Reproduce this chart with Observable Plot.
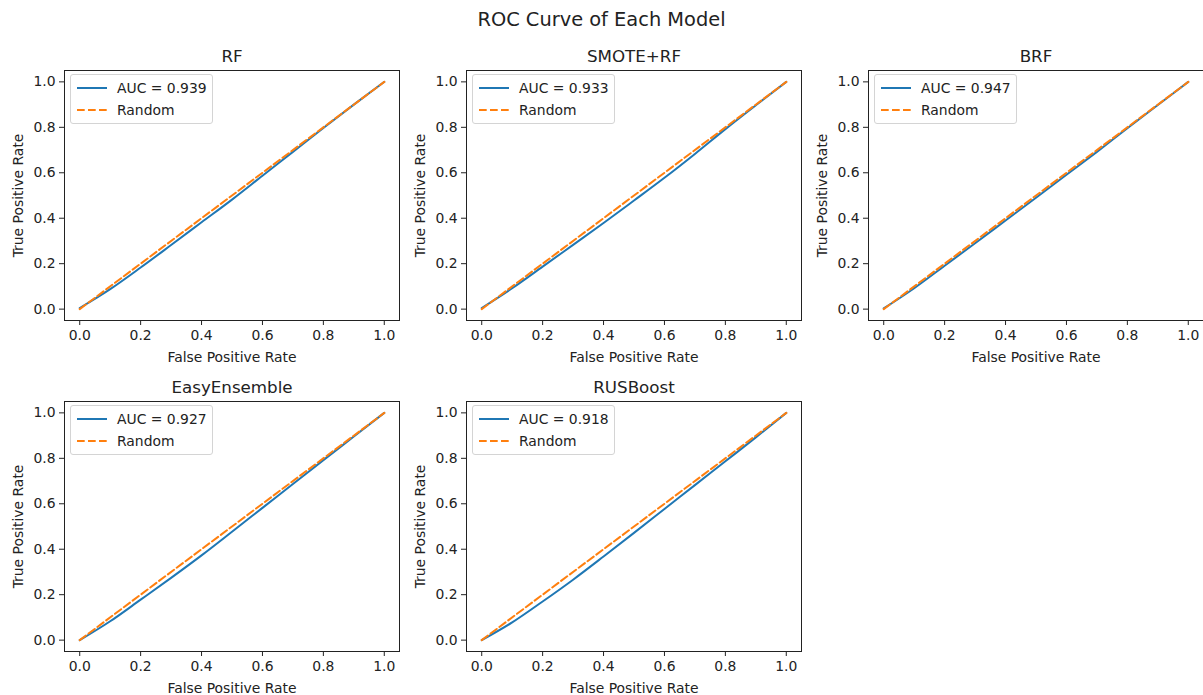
<!DOCTYPE html>
<html><head><meta charset="utf-8">
<script src="https://cdn.jsdelivr.net/npm/d3@7"></script>
<script src="https://cdn.jsdelivr.net/npm/@observablehq/plot@0.6"></script>
<style>
html,body{margin:0;padding:0;background:#fff;overflow:hidden;width:1203px;height:695px;}
body{position:relative;font-family:"DejaVu Sans",sans-serif;color:#222;}
#title{position:absolute;left:0;width:1203px;top:10px;text-align:center;font-size:19.4px;line-height:1;white-space:nowrap;}
.panel{position:absolute;width:402px;}
.panel svg{display:block;overflow:visible;max-width:none !important;}
.legend{position:absolute;border:1px solid #d4d4d4;border-radius:3px;background:rgba(255,255,255,0.8);font-size:13.9px;padding:2px 5px 2px 6px;line-height:22px;white-space:nowrap;}
.legend .row{height:22px;display:flex;align-items:center;}
.legend svg{display:block;margin-right:10px;}
</style></head><body>
<div id="title">ROC Curve of Each Model</div>
<script>
// ---- data ----
const models = ["RF", "SMOTE+RF", "BRF", "EasyEnsemble", "RUSBoost"];
const aucs = [0.939, 0.933, 0.947, 0.927, 0.918];
const fpr = [0, 0.1, 0.2, 0.3, 0.4, 0.5, 0.6, 0.7, 0.8, 0.9, 1.0];
const tprRF = [0.005, 0.088, 0.183, 0.282, 0.382, 0.482, 0.587, 0.692, 0.797, 0.9, 1.0];
const tprSMOTE = [0.005, 0.092, 0.187, 0.283, 0.379, 0.478, 0.578, 0.683, 0.792, 0.897, 1.0];
const tprBRF = [0.003, 0.092, 0.191, 0.29, 0.39, 0.49, 0.591, 0.692, 0.796, 0.898, 1.0];
const tprEasy = [0, 0.083, 0.178, 0.274, 0.373, 0.477, 0.582, 0.687, 0.792, 0.896, 1.0];
const tprRUS = [0, 0.078, 0.17, 0.266, 0.368, 0.472, 0.577, 0.682, 0.787, 0.892, 1.0];
const tprs = [tprRF, tprSMOTE, tprBRF, tprEasy, tprRUS];
const randomX = [0, 1];
const randomY = [0, 1];
const ticks = [0, 0.2, 0.4, 0.6, 0.8, 1.0];

// ---- layout ----
const blue = "#1f77b4", orange = "#ff7f0e";
const colLeft = [0, 402, 804];
const rowFrameTop = [70, 401];
const mL = 64, mR = 3, mT = 35, mB = 45, frameW = 335, frameH = 250;

models.forEach((name, i) => {
  const col = i % 3, row = Math.floor(i / 3);
  const roc = fpr.map((f, k) => ({fpr: f, tpr: tprs[i][k]}));
  const rnd = randomX.map((f, k) => ({fpr: f, tpr: randomY[k]}));
  const chart = Plot.plot({
    width: mL + frameW + mR,
    height: mT + frameH + mB,
    marginLeft: mL, marginRight: mR, marginTop: mT, marginBottom: mB,
    style: {fontSize: "13.9px", fontFamily: "DejaVu Sans", color: "#222", background: "transparent", overflow: "visible", maxWidth: "none"},
    x: {domain: [-0.05, 1.05], ticks, tickFormat: d3.format(".1f"), tickSize: 5, tickPadding: 5,
        label: "False Positive Rate", labelAnchor: "center", labelArrow: "none", labelOffset: 41},
    y: {domain: [-0.05, 1.05], ticks, tickFormat: d3.format(".1f"), tickSize: 5, tickPadding: 4,
        label: "True Positive Rate", labelAnchor: "center", labelArrow: "none", labelOffset: 51},
    marks: [
      Plot.line(roc, {x: "fpr", y: "tpr", stroke: blue, strokeWidth: 2, curve: "monotone-x"}),
      Plot.line(rnd, {x: "fpr", y: "tpr", stroke: orange, strokeWidth: 2, strokeDasharray: "7.7,3.3"}),
      Plot.frame({stroke: "#222", strokeWidth: 1}),
      Plot.text([name], {text: d => d, frameAnchor: "top", dy: -14, lineAnchor: "middle", fontSize: 16.7, fill: "#222"})
    ]
  });
  const div = document.createElement("div");
  div.className = "panel";
  div.style.left = colLeft[col] + "px";
  div.style.top = (rowFrameTop[row] - mT) + "px";
  div.appendChild(chart);
  document.body.appendChild(div);

  // legend
  const lg = document.createElement("div");
  lg.className = "legend";
  lg.style.left = (colLeft[col] + mL + 6) + "px";
  lg.style.top = (rowFrameTop[row] + 4) + "px";
  lg.innerHTML =
    `<div class="row"><svg width="30" height="22"><line x1="0" x2="30" y1="11" y2="11" stroke="${blue}" stroke-width="2"/></svg><span>AUC = ${aucs[i].toFixed(3)}</span></div>` +
    `<div class="row"><svg width="30" height="22"><line x1="0" x2="30" y1="11" y2="11" stroke="${orange}" stroke-width="2" stroke-dasharray="7.7,3.3"/></svg><span>Random</span></div>`;
  document.body.appendChild(lg);
});
</script>
</body></html>
